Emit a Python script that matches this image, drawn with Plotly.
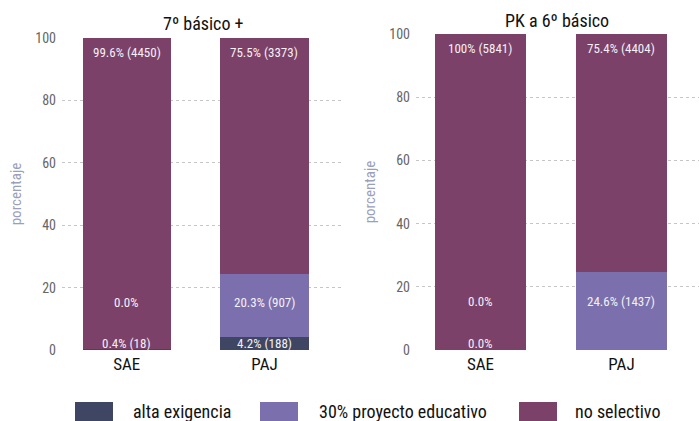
import plotly.graph_objects as go

# ---------------- data ----------------
categories = ["SAE", "PAJ"]
series_names = ["alta exigencia", "30% proyecto educativo", "no selectivo"]
panel_titles = ["7º básico +", "PK a 6º básico"]

# panel 1: 7º básico +
p1_pct = {
    "alta exigencia": [0.4, 4.2],
    "30% proyecto educativo": [0.0, 20.3],
    "no selectivo": [99.6, 75.5],
}
p1_n = {
    "alta exigencia": [18, 188],
    "30% proyecto educativo": [0, 907],
    "no selectivo": [4450, 3373],
}
# panel 2: PK a 6º básico
p2_pct = {
    "alta exigencia": [0.0, None],
    "30% proyecto educativo": [0.0, 24.6],
    "no selectivo": [100.0, 75.4],
}
p2_n = {
    "alta exigencia": [0, None],
    "30% proyecto educativo": [0, 1437],
    "no selectivo": [5841, 4404],
}
y_ticks = [0, 20, 40, 60, 80, 100]

# ---------------- style ----------------
colors = {
    "alta exigencia": "#3e4664",
    "30% proyecto educativo": "#7b70ad",
    "no selectivo": "#7c4169",
}
label_y = {"alta exigencia": 2.2, "30% proyecto educativo": 15.2, "no selectivo": 95.4}
FONT = "Liberation Sans Narrow, Arial Narrow, Roboto Condensed, sans-serif"
W, H = 699, 421


def px_x(p):
    return p / W


def px_y(p):
    return 1 - p / H


def fmt(p, n):
    s = "100" if p >= 100 else f"{p:.1f}"
    return f"{s}%" if not n else f"{s}% ({n})"


fig = go.Figure()
annotations = []
panels = [(p1_pct, p1_n, "x", "y"), (p2_pct, p2_n, "x2", "y2")]
for pct, ns, xa, ya in panels:
    for s in series_names:
        fig.add_trace(go.Bar(
            x=categories, y=pct[s], name=s, marker=dict(color=colors[s], line=dict(width=0)),
            width=0.64, xaxis=xa, yaxis=ya, showlegend=False, hoverinfo="skip",
        ))
        for c, p, n in zip(categories, pct[s], ns[s]):
            if p is None:
                continue
            annotations.append(dict(
                x=c, y=label_y[s], xref=xa, yref=ya, text=fmt(p, n), showarrow=False,
                font=dict(family=FONT, size=13, color="#f4f0f4"), xanchor="center", yanchor="middle",
            ))

# titles
annotations.append(dict(x=px_x(203), y=px_y(24), xref="paper", yref="paper", text=panel_titles[0],
                        showarrow=False, font=dict(family=FONT, size=18, color="#111"),
                        xanchor="center", yanchor="middle"))
annotations.append(dict(x=px_x(557), y=px_y(20), xref="paper", yref="paper", text=panel_titles[1],
                        showarrow=False, font=dict(family=FONT, size=18, color="#111"),
                        xanchor="center", yanchor="middle"))

# custom legend
shapes = []
leg_box_x = [75, 260, 519]
leg_txt_x = [131, 317, 573]
for s, bx, tx in zip(series_names, leg_box_x, leg_txt_x):
    shapes.append(dict(type="rect", xref="paper", yref="paper", x0=px_x(bx), x1=px_x(bx + 38),
                       y0=px_y(424), y1=px_y(402), fillcolor=colors[s], line=dict(width=0)))
    annotations.append(dict(x=px_x(tx), y=px_y(411), xref="paper", yref="paper", text=s,
                            showarrow=False, font=dict(family=FONT, size=18, color="#111"),
                            xanchor="left", yanchor="middle"))

axis_y_common = dict(
    range=[0, 100], tickvals=y_ticks, showgrid=True, gridcolor="#c6c6c6", griddash="3px,3px",
    gridwidth=1, zeroline=False, showline=False, ticks="", automargin=False,
    tickfont=dict(family=FONT, size=14, color="#666"), ticklabelstandoff=5,
    title=dict(text="porcentaje", font=dict(family=FONT, size=15, color="#9aa0bc"), standoff=10),
)
axis_x_common = dict(
    showgrid=False, zeroline=False, showline=False, ticks="", automargin=False,
    tickfont=dict(family=FONT, size=17, color="#111"), ticklabelstandoff=2,
)

fig.update_layout(
    width=W, height=H, margin=dict(l=0, r=0, t=0, b=0),
    paper_bgcolor="white", plot_bgcolor="white", barmode="stack", bargap=0,
    showlegend=False,
    xaxis=dict(domain=[px_x(62), px_x(343)], range=[-0.47, 1.57], anchor="y", **axis_x_common),
    yaxis=dict(domain=[px_y(350), px_y(38)], anchor="x", **axis_y_common),
    xaxis2=dict(domain=[px_x(416), 1.0], range=[-0.457, 1.55], anchor="y2", **axis_x_common),
    yaxis2=dict(domain=[px_y(350), px_y(34)], anchor="x2", **axis_y_common),
    annotations=annotations, shapes=shapes,
)

fig.write_html("out.html")
